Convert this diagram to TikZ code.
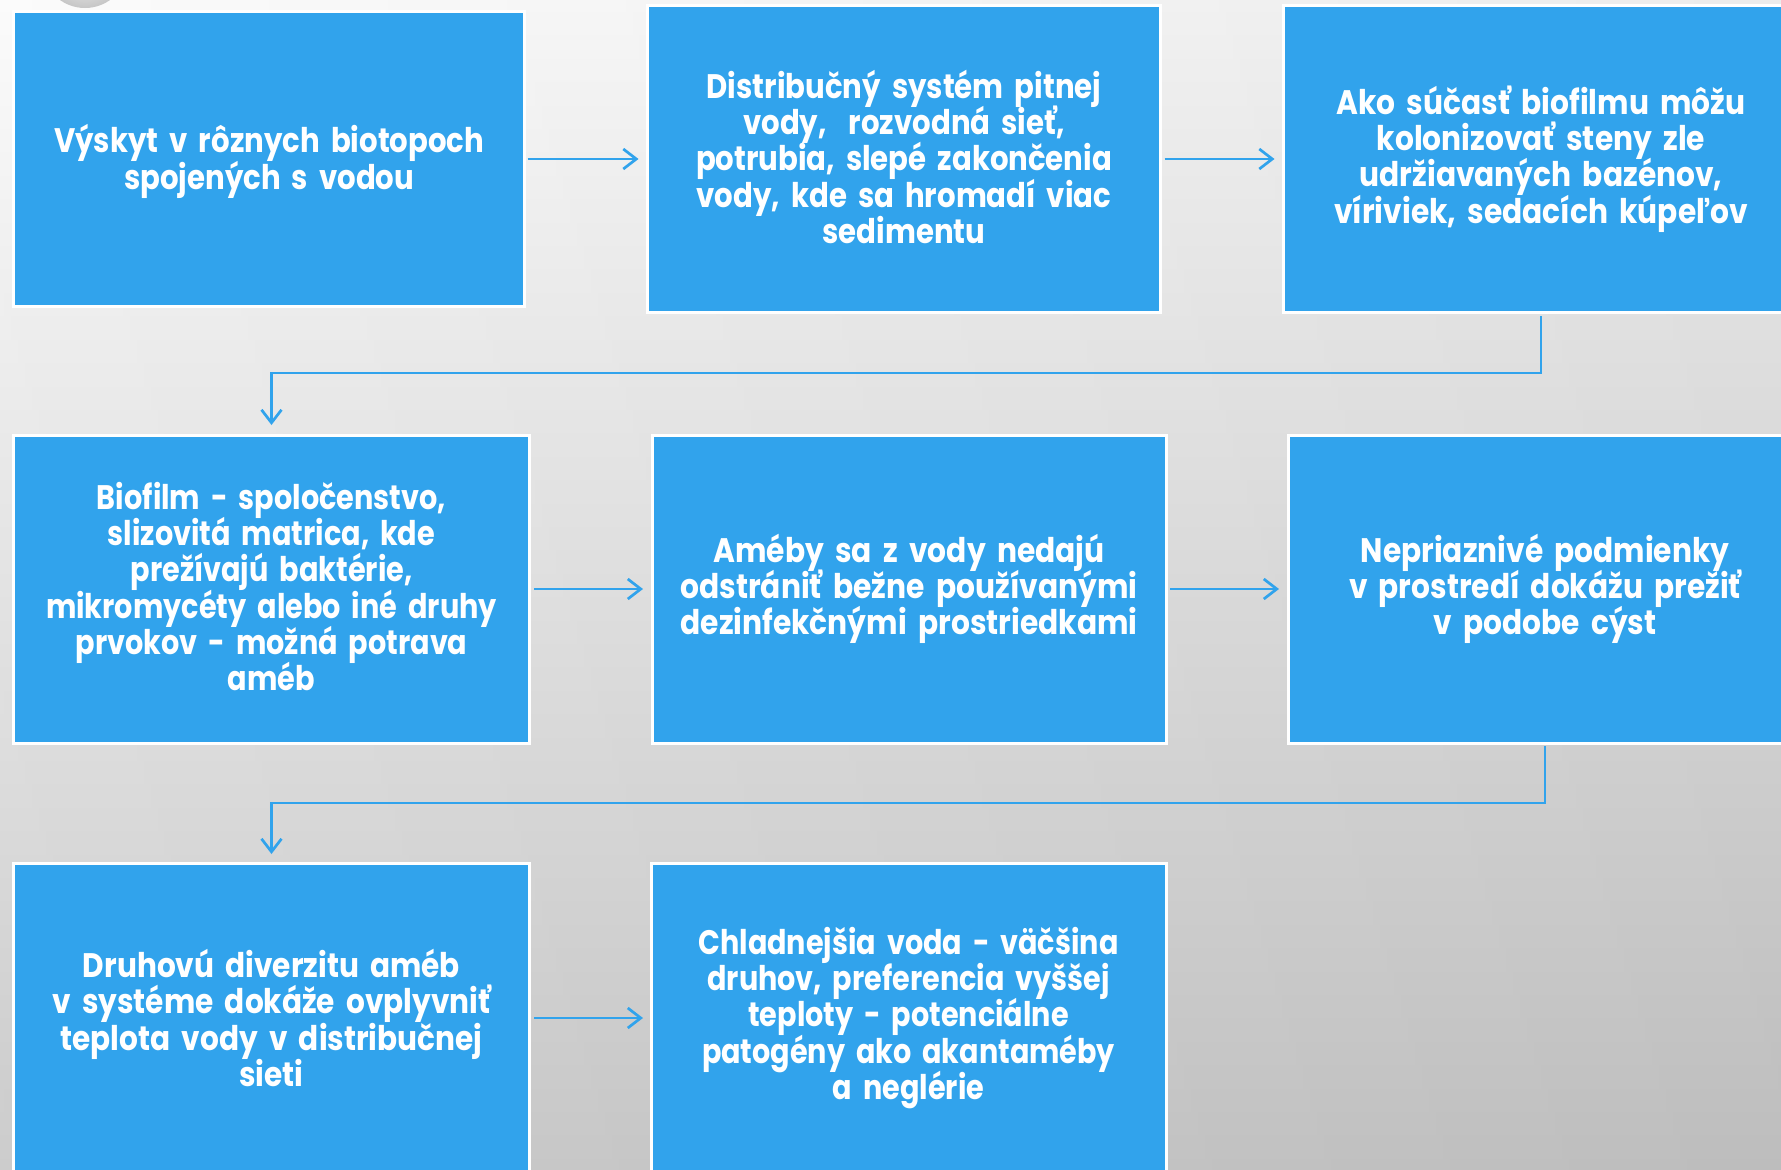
\documentclass[tikz,border=0pt]{standalone}
\usepackage{fontspec}
\setmainfont{Poppins}
\usetikzlibrary{arrows.meta}
\definecolor{boxblue}{HTML}{31A3EC}
\definecolor{bgtop}{HTML}{FBFBFB}
\definecolor{bgbot}{HTML}{C9C9C9}
\newlength\bxlen
\newcommand\bxtext[3]{\spaceskip=0.38em\relax\settowidth{\bxlen}{#2}\pgfmathsetmacro\bxscale{#1/\bxlen}\makebox[0pt][c]{\scalebox{\bxscale}[1]{\parbox{2\bxlen}{\centering\spaceskip=0.38em\relax\lineskiplimit=-200pt\baselineskip=36.3pt #3\par}}}}
\newcommand\shiftup[2]{\raisebox{#1}[\height][\depth]{#2}}
\tikzset{
  box/.style={fill=boxblue, draw=white, line width=3pt, outer sep=0pt, inner sep=0pt,
    text=white, font=\fontsize{34}{36.3}\selectfont\bfseries, align=center},
  conn/.style={draw=boxblue, line width=2.7pt, -{Straight Barb[length=13pt,width=20pt]}}
}
\begin{document}
\begin{tikzpicture}[x=1pt,y=-1pt]
\useasboundingbox (0,0) rectangle (1781,1170);
\clip (0,0) rectangle (1781,1170);
\shade[top color=bgtop, bottom color=bgbot] (0,0) rectangle (1781,1170);
\shade[left color=white, right color=black, opacity=0.06] (0,0) rectangle (1781,1170);
\shade[inner color=white, outer color=gray!45] (85,-35) circle (43pt);

\node[box, minimum width=511pt, minimum height=295pt] (b1) at (269.2,159)
  {\shiftup{-2.3pt}{\bxtext{430}{Výskyt v rôznych biotopoch}{Výskyt v rôznych biotopoch\\spojených s vodou}}};
\node[box, minimum width=513pt, minimum height=307pt] (b2) at (904,159)
  {\shiftup{2.3pt}{\bxtext{416}{potrubia, slepé zakončenia}{Distribučný systém pitnej\\vody,~ rozvodná sieť,\\potrubia, slepé zakončenia\\vody, kde sa hromadí viac\\sedimentu}}};
\node[box, minimum width=515pt, minimum height=307pt] (b3) at (1541,159)
  {\bxtext{409}{Ako súčasť biofilmu môžu}{Ako súčasť biofilmu môžu\\kolonizovať steny zle\\udržiavaných bazénov,\\víriviek, sedacích kúpeľov}};

\node[box, minimum width=516pt, minimum height=308pt] (b4) at (271.5,589)
  {\shiftup{2.5pt}{\bxtext{451}{mikromycéty alebo iné druhy}{Biofilm - spoločenstvo,\\slizovitá matrica, kde\\prežívajú baktérie,\\mikromycéty alebo iné druhy\\prvokov - možná potrava\\améb}}};
\node[box, minimum width=514pt, minimum height=308pt] (b5) at (909,589)
  {\bxtext{457}{odstrániť bežne používanými}{Améby sa z vody nedajú\\odstrániť bežne používanými\\dezinfekčnými prostriedkami}};
\node[box, minimum width=514pt, minimum height=308pt] (b6) at (1545,589)
  {\bxtext{392}{v prostredí dokážu prežiť}{Nepriaznivé podmienky\\v prostredí dokážu prežiť\\v podobe cýst}};

\node[box, minimum width=516pt, minimum height=310pt] (b7) at (271.5,1018)
  {\bxtext{438}{v systéme dokáže ovplyvniť}{Druhovú diverzitu améb\\v systéme dokáže ovplyvniť\\teplota vody v distribučnej\\sieti}};
\node[box, minimum width=515pt, minimum height=310pt] (b8) at (908.5,1018)
  {\bxtext{420}{Chladnejšia voda - väčšina}{Chladnejšia voda - väčšina\\druhov, preferencia vyššej\\teploty - potenciálne\\patogény ako akantaméby\\a neglérie}};

\draw[conn, shorten <=3pt, shorten >=9pt] (b1.east) -- (b2.west);
\draw[conn, shorten <=4pt, shorten >=9pt] (b2.east) -- (b3.west);
\draw[conn, shorten <=4.5pt, shorten >=9pt] (b4.east) -- (b5.west);
\draw[conn, shorten <=4pt, shorten >=9pt] (b5.east) -- (b6.west);
\draw[conn, shorten <=4.5pt, shorten >=8pt] (b7.east) -- (b8.west);

\coordinate (m1) at (900,373);
\coordinate (m2) at (900,803);
\draw[conn, shorten <=3.5pt, shorten >=10pt] (b3.south) |- (m1) -| (b4.north);
\draw[conn, shorten <=3pt, shorten >=9pt] (b6.south) |- (m2) -| (b7.north);
\end{tikzpicture}
\end{document}
